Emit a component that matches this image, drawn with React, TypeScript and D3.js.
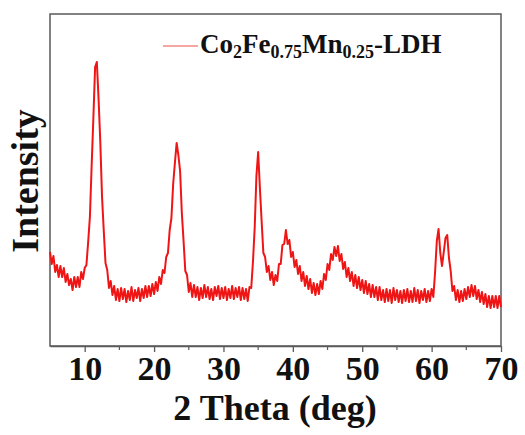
import { useEffect, useRef } from 'react';
import * as d3 from 'd3';

// XRD pattern, 2θ from 5° to 70° in 0.25° steps (intensity in a.u.)
const thetaStart = 5;
const thetaStep = 0.25;
const intensity = [
  94, 82, 90, 74, 81, 69, 80, 69, 78, 64, 72, 61, 67, 56, 69, 59, // 5 - 8.75
  69, 59, 74, 67, 78, 81, 104, 129, 180, 228, 279, 284, 247, 204, 149, 115, // 9 - 12.75
  83, 76, 58, 65, 51, 60, 46, 57, 45, 58, 47, 57, 44, 55, 46, 59, // 13 - 16.75
  45, 56, 48, 58, 45, 57, 48, 60, 49, 60, 50, 62, 52, 64, 55, 69, // 17 - 20.75
  62, 76, 73, 89, 93, 116, 128, 162, 183, 203, 191, 175, 133, 105, 75, 71, // 21 - 24.75
  54, 63, 49, 61, 49, 59, 46, 58, 48, 61, 49, 59, 47, 57, 46, 59, // 25 - 28.75
  50, 60, 47, 58, 48, 59, 46, 57, 48, 60, 47, 58, 49, 59, 46, 58, // 29 - 32.75
  47, 57, 45, 59, 58, 84, 118, 170, 194, 158, 125, 93, 89, 74, 80, 66, // 33 - 36.75
  74, 61, 71, 65, 82, 82, 101, 102, 116, 102, 106, 89, 94, 79, 86, 72, // 37 - 40.75
  80, 65, 74, 60, 70, 57, 67, 53, 63, 51, 62, 52, 65, 57, 72, 66, // 41 - 44.75
  82, 76, 92, 86, 99, 90, 100, 85, 92, 77, 84, 69, 78, 65, 74, 60, // 45 - 48.75
  71, 58, 69, 56, 66, 53, 65, 52, 62, 49, 61, 49, 59, 46, 59, 46, // 49 - 52.75
  56, 44, 57, 45, 56, 43, 58, 46, 56, 44, 55, 43, 56, 45, 57, 44, // 53 - 56.75
  55, 44, 58, 45, 56, 43, 55, 46, 57, 44, 55, 45, 57, 49, 74, 105, // 57 - 60.75
  117, 93, 80, 94, 108, 111, 88, 75, 55, 60, 46, 56, 44, 55, 45, 57, // 61 - 64.75
  47, 59, 49, 61, 50, 60, 47, 56, 44, 54, 42, 52, 39, 50, 38, 50, // 65 - 68.75
  39, 50, 38, 50, 39, // 69 - 70
];

const xTicks = [10, 20, 30, 40, 50, 60, 70];
const xMinorTicks = [15, 25, 35, 45, 55, 65];
const seriesName = ['Co', '2', 'Fe', '0.75', 'Mn', '0.25', '-LDH'];

const W = 525;
const H = 435;
const margin = { top: 14, right: 24, bottom: 89, left: 50 };
const serif = '"Liberation Serif", "Times New Roman", serif';

export default function App() {
  const ref = useRef<SVGSVGElement>(null);

  useEffect(() => {
    const svg = d3.select(ref.current);
    svg.selectAll('*').remove();

    const x = d3.scaleLinear().domain([5, 70]).range([margin.left, W - margin.right]);
    const y = d3.scaleLinear().domain([0, 332]).range([H - margin.bottom, margin.top]);

    const data = intensity.map((v, i) => ({ t: thetaStart + i * thetaStep, v }));

    // frame
    svg
      .append('rect')
      .attr('x', margin.left)
      .attr('y', margin.top)
      .attr('width', W - margin.left - margin.right)
      .attr('height', H - margin.top - margin.bottom)
      .attr('fill', 'none')
      .attr('stroke', '#5a5a5a')
      .attr('stroke-width', 1.5);

    const line = d3
      .line<{ t: number; v: number }>()
      .x((d) => x(d.t))
      .y((d) => y(d.v));

    svg
      .append('path')
      .datum(data)
      .attr('d', line)
      .attr('fill', 'none')
      .attr('stroke', '#f01515')
      .attr('stroke-width', 2)
      .attr('stroke-linejoin', 'round');

    // bottom axis
    const axis = svg
      .append('g')
      .attr('transform', `translate(0,${H - margin.bottom})`)
      .call(d3.axisBottom(x).tickValues(xTicks).tickSize(6).tickSizeOuter(0).tickFormat(d3.format('d')));
    axis.attr('font-family', null);
    axis.select('.domain').attr('stroke', '#5a5a5a').attr('stroke-width', 1.5);
    axis.selectAll('.tick line').attr('stroke', '#5a5a5a').attr('stroke-width', 1.3);
    axis
      .selectAll('.tick text')
      .style('font-family', serif)
      .style('font-weight', 'bold')
      .style('font-size', '34px')
      .attr('fill', '#111')
      .attr('y', 10)
      .attr('dy', '0.71em');

    svg
      .append('g')
      .selectAll('line')
      .data(xMinorTicks)
      .join('line')
      .attr('x1', (d) => x(d))
      .attr('x2', (d) => x(d))
      .attr('y1', H - margin.bottom)
      .attr('y2', H - margin.bottom + 4)
      .attr('stroke', '#5a5a5a')
      .attr('stroke-width', 1.2);

    // axis titles
    svg
      .append('text')
      .attr('x', 275)
      .attr('y', 420)
      .attr('text-anchor', 'middle')
      .style('font-family', serif)
      .style('font-weight', 'bold')
      .style('font-size', '36px')
      .attr('fill', '#111')
      .text('2 Theta (deg)');

    svg
      .append('text')
      .attr('transform', `translate(38,181) rotate(-90)`)
      .attr('text-anchor', 'middle')
      .style('font-family', serif)
      .style('font-weight', 'bold')
      .style('font-size', '38px')
      .attr('fill', '#111')
      .text('Intensity');

    // legend
    svg
      .append('line')
      .attr('x1', 163)
      .attr('x2', 198)
      .attr('y1', 46)
      .attr('y2', 46)
      .attr('stroke', '#f08a80')
      .attr('stroke-width', 1.3);

    const lt = svg
      .append('text')
      .attr('x', 200)
      .attr('y', 53)
      .style('font-family', serif)
      .style('font-weight', 'bold')
      .attr('fill', '#111');
    seriesName.forEach((s, i) => {
      const sub = i % 2 === 1;
      lt.append('tspan')
        .style('font-size', sub ? '18px' : '27px')
        .attr('dy', i === 0 ? 0 : sub ? 5 : -5)
        .text(s);
    });
  }, []);

  return <svg ref={ref} width={W} height={H} style={{ position: 'absolute', left: 0, top: 0 }} />;
}
